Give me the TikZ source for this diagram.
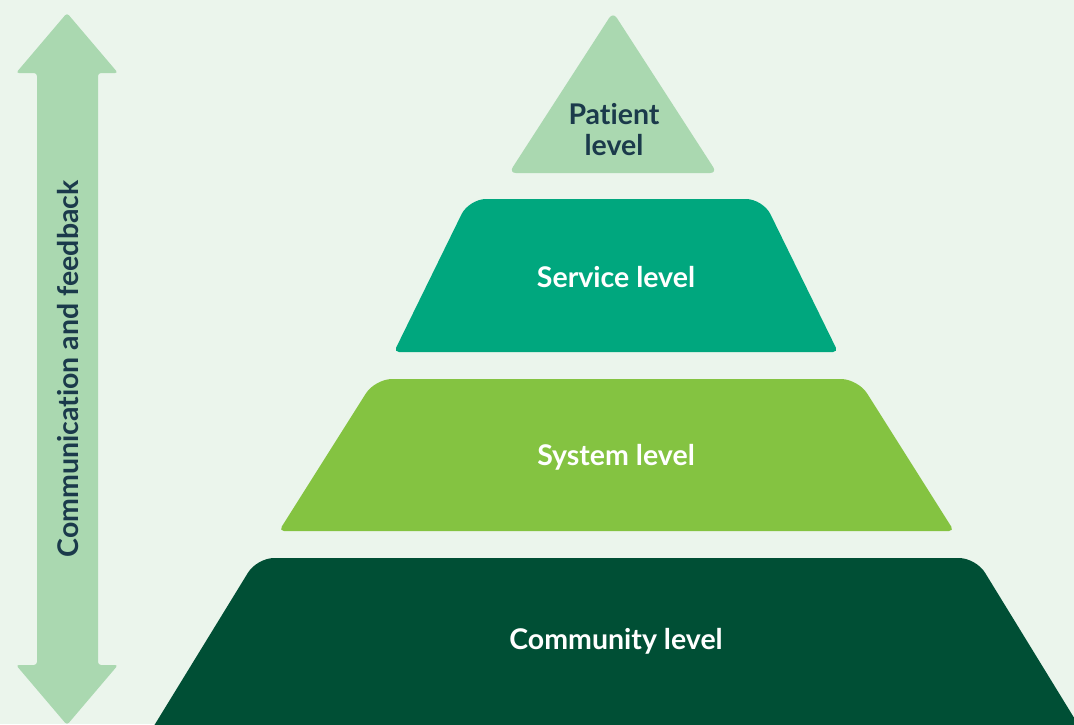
\documentclass[tikz,border=0pt]{standalone}
\usepackage{fontspec}
\setmainfont{Lato}[Ligatures={NoCommon,NoRare}]
\usepackage{tikz}
\usepackage{xcolor}
\usetikzlibrary{
    calc,
    positioning
}
\definecolor{bgmint}{HTML}{EBF5EC}
\definecolor{palegreen}{HTML}{AAD8B0}
\definecolor{servicegreen}{HTML}{00A77E}
\definecolor{systemgreen}{HTML}{84C341}
\definecolor{communitygreen}{HTML}{004F35}
\definecolor{navytext}{HTML}{1B3A4B}
\tikzset{
    lvltext/.style={font=\fontsize{28.5}{31}\selectfont\bfseries, align=center, inner sep=0pt},
    lvlshape/.style={rounded corners=5pt}
}

\begin{document}
\begin{tikzpicture}[x=1pt, y=-1pt]
                            \useasboundingbox (0, 0) rectangle (1074, 724);
                            \fill[bgmint] (0, 0) rectangle (1074, 724);
                            \clip (0, 0) rectangle (1074, 724);
                            % two-way arrow
                            \fill[palegreen, rounded corners=3pt]
                            (67, 13) -- (118, 73) -- (98, 73) -- (98, 665) -- (118, 665)
                            -- (67, 725) -- (16, 665) -- (37, 665) -- (37, 73) -- (16, 73) -- cycle;
                            \node[lvltext, rotate=90, text=navytext] (fb) at (68, 369) {Communication and feedback};
                            % pyramid
                            \fill[palegreen, lvlshape, rounded corners=7pt]
                            (613, 12) -- (717, 173) -- (509, 173) -- cycle;
                            \fill[servicegreen, lvlshape]
                            (616, 352) -- (838, 352) {[rounded corners=17pt] -- (763, 199) -- (469, 199)} -- (394, 352) -- cycle;
                            \fill[systemgreen, lvlshape]
                            (616, 531) -- (954, 531) {[rounded corners=17pt] -- (858, 379) -- (375, 379)} -- (279, 531) -- cycle;
                            \fill[communitygreen, lvlshape]
                            (616, 760) -- (1100, 760) {[rounded corners=17pt] -- (976, 558) -- (257, 558)} -- (133, 760) -- cycle;
                            \node[lvltext, text=navytext] (patient) at (614, 130) {Patient\\level};
                            \node[lvltext, text=white] (service) at (616, 277) {Service level};
                            \node[lvltext, text=white] (system) at (616, 457) {System level};
                            \node[lvltext, text=white] (community) at (616, 641) {Community level};
                        \end{tikzpicture}
\end{document}
